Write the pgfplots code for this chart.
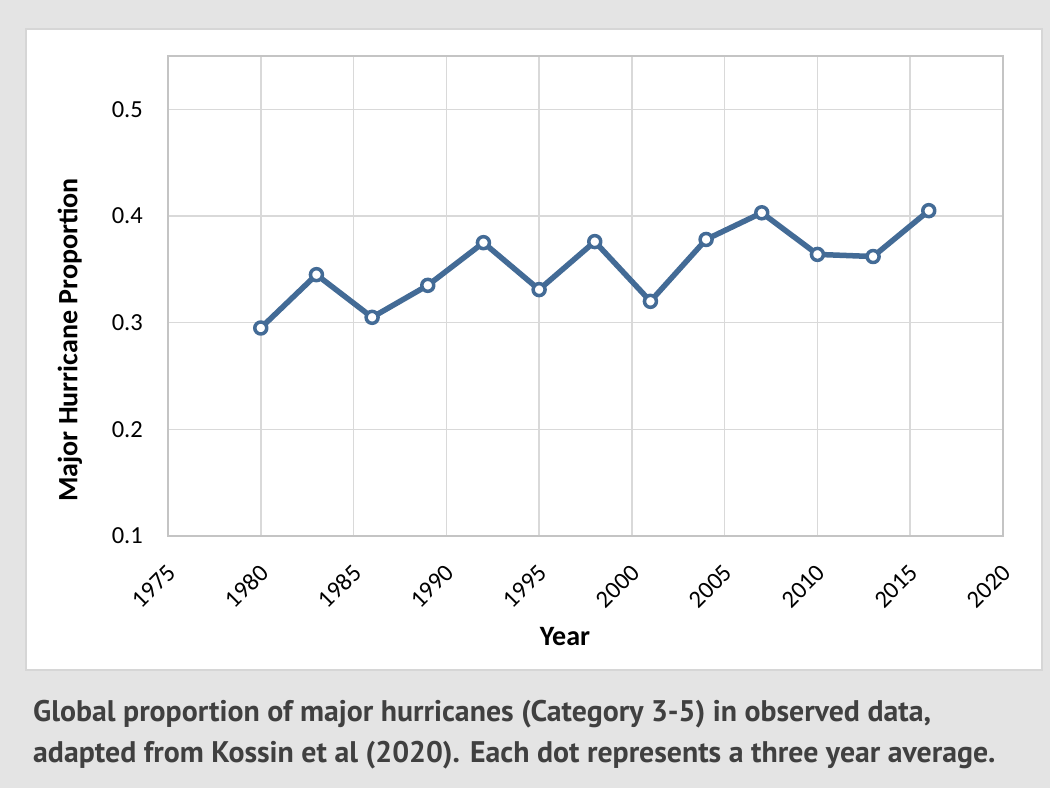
\documentclass[border=0pt]{standalone}
\usepackage{pgfplots}
\pgfplotsset{compat=1.18}
\usepackage{fontspec}
\setmainfont{Carlito}
\newfontfamily\capfont{PT Sans}
\definecolor{bg}{HTML}{E4E4E4}
\definecolor{panelborder}{HTML}{D6D6D6}
\definecolor{gridc}{HTML}{D9D9D9}
\definecolor{framec}{HTML}{C4C4C4}
\definecolor{lineblue}{HTML}{436B96}
\definecolor{captext}{HTML}{404040}
\begin{document}
\begin{tikzpicture}[x=1pt,y=1pt]
\fill[bg] (0,0) rectangle (1050,788);
\fill[white,draw=panelborder,line width=1.5pt] (26,118) rectangle (1042,759);
\begin{axis}[
  at={(168pt,252pt)}, anchor=south west,
  scale only axis, width=835pt, height=480pt,
  xmin=1975, xmax=2020, ymin=0.1, ymax=0.55,
  xtick={1975,1980,...,2020},
  ytick={0.1,0.2,0.3,0.4,0.5},
  grid=major,
  major grid style={gridc, line width=1.5pt},
  axis line style={framec, line width=1.5pt},
  major tick length=0pt,
  tick label style={font=\fontsize{24.5}{28}\selectfont, black, inner sep=0pt},
  /pgf/number format/assume math mode=true,
  x tick label style={/pgf/number format/1000 sep={}, rotate=45, anchor=east, xshift=-20.5pt, yshift=-25.5pt},
  y tick label style={/pgf/number format/fixed, /pgf/number format/precision=1, /pgf/number format/fixed zerofill, anchor=east, xshift=-25pt},
  clip=false,
]
\addplot[lineblue, line width=5.5pt, line join=round, mark=*, mark size=6pt,
  mark options={fill=white, draw=lineblue, line width=3.5pt}]
  coordinates {
  (1980,0.295) (1983,0.345) (1986,0.305) (1989,0.335) (1992,0.375)
  (1995,0.331) (1998,0.376) (2001,0.320) (2004,0.378) (2007,0.403)
  (2010,0.364) (2013,0.362) (2016,0.405)
  };
\end{axis}
\node[font=\fontsize{28}{32}\selectfont\bfseries, rotate=90] at (70,448) {Major Hurricane Proportion};
\node[font=\fontsize{28}{32}\selectfont\bfseries] at (565,151) {Year};
\node[anchor=base west, font=\capfont\fontsize{29.8}{34}\selectfont\bfseries, text=captext, inner sep=0pt] at (33,67) {Global proportion of major hurricanes (Category 3-5) in observed data,};
\node[anchor=base west, font=\capfont\fontsize{29.8}{34}\selectfont\bfseries, text=captext, inner sep=0pt] at (33,26) {adapted from Kossin et al (2020). Each dot represents a three year average.};
\end{tikzpicture}
\end{document}
